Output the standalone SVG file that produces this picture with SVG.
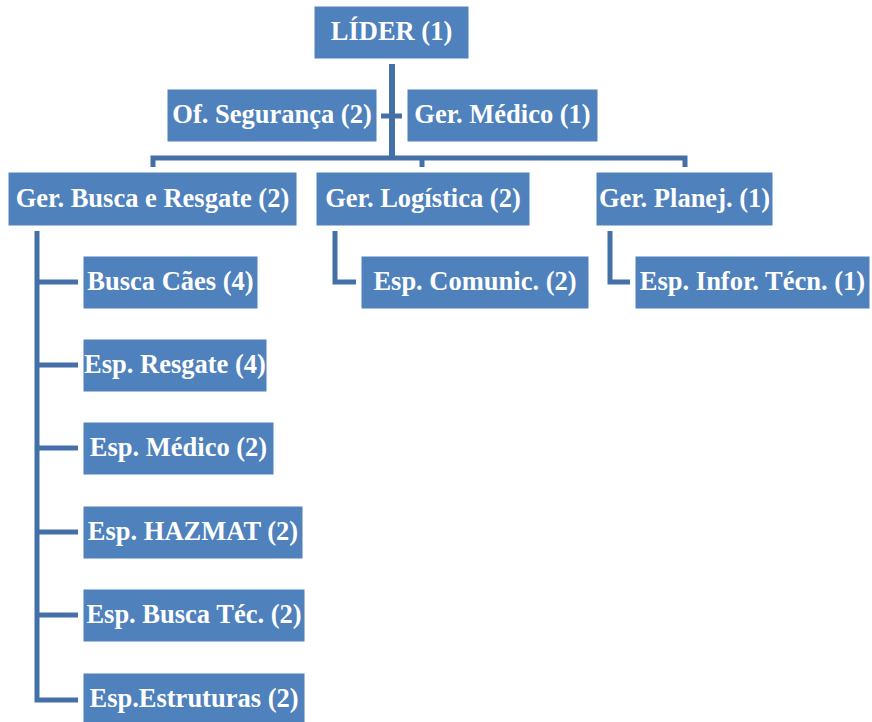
<svg xmlns="http://www.w3.org/2000/svg" width="872" height="722" viewBox="0 0 872 722">
<style>
.box{fill:#4F81BD;stroke:#ffffff;stroke-width:1}
text{font-family:'Liberation Serif','DejaVu Serif',serif;font-weight:700;font-size:26.5px;fill:#ffffff;text-anchor:middle}
.c{stroke:#4470A8;stroke-width:5;fill:none;stroke-linecap:butt;stroke-linejoin:miter}
</style>
<rect width="872" height="722" fill="#ffffff"/>
<g id="connectors">
<line class="c" x1="392" y1="64" x2="392" y2="158" style="stroke-width:6"/>
<line class="c" x1="381" y1="116" x2="402" y2="116"/>
<polyline class="c" points="153,167 153,158 685,158 685,167"/>
<line class="c" x1="422" y1="156" x2="422" y2="167"/>
<polyline class="c" points="37,231 37,700 78,700"/>
<line class="c" x1="37" y1="282" x2="78" y2="282"/>
<line class="c" x1="37" y1="365" x2="78" y2="365"/>
<line class="c" x1="37" y1="448" x2="78" y2="448"/>
<line class="c" x1="37" y1="532" x2="78" y2="532"/>
<line class="c" x1="37" y1="615" x2="78" y2="615"/>
<polyline class="c" points="335,231 335,282 356,282"/>
<polyline class="c" points="610,231 610,282 630,282"/>
</g>
<g id="lider"><rect class="box" x="314" y="6" width="155" height="53"/><text x="391.5" y="40">LÍDER (1)</text></g>
<g id="of-seguranca"><rect class="box" x="167" y="89" width="210" height="53"/><text x="272" y="123">Of. Segurança (2)</text></g>
<g id="ger-medico"><rect class="box" x="407" y="89" width="191" height="53"/><text x="502.5" y="123">Ger. Médico (1)</text></g>
<g id="ger-busca"><rect class="box" x="8" y="172" width="289" height="54"/><text x="152.5" y="206.5">Ger. Busca e Resgate (2)</text></g>
<g id="ger-logistica"><rect class="box" x="316" y="172" width="214" height="54"/><text x="423" y="206.5">Ger. Logística (2)</text></g>
<g id="ger-planej"><rect class="box" x="596" y="172" width="177" height="54"/><text x="684.5" y="206.5">Ger. Planej. (1)</text></g>
<g id="busca-caes"><rect class="box" x="83" y="256" width="175" height="53"/><text x="170.5" y="290">Busca Cães (4)</text></g>
<g id="esp-resgate"><rect class="box" x="83" y="339" width="184" height="53"/><text x="175" y="373">Esp. Resgate (4)</text></g>
<g id="esp-medico"><rect class="box" x="83" y="422" width="191" height="53"/><text x="178.5" y="456">Esp. Médico (2)</text></g>
<g id="esp-hazmat"><rect class="box" x="83" y="506" width="220" height="53"/><text x="193" y="540">Esp. HAZMAT (2)</text></g>
<g id="esp-busca-tec"><rect class="box" x="83" y="589" width="222" height="53"/><text x="194" y="623">Esp. Busca Téc. (2)</text></g>
<g id="esp-estruturas"><rect class="box" x="83" y="673" width="222" height="53"/><text x="194" y="707">Esp.Estruturas (2)</text></g>
<g id="esp-comunic"><rect class="box" x="361" y="256" width="228" height="53"/><text x="475" y="290">Esp. Comunic. (2)</text></g>
<g id="esp-infor"><rect class="box" x="635" y="256" width="235" height="53"/><text x="752.5" y="290">Esp. Infor. Técn. (1)</text></g>
</svg>
